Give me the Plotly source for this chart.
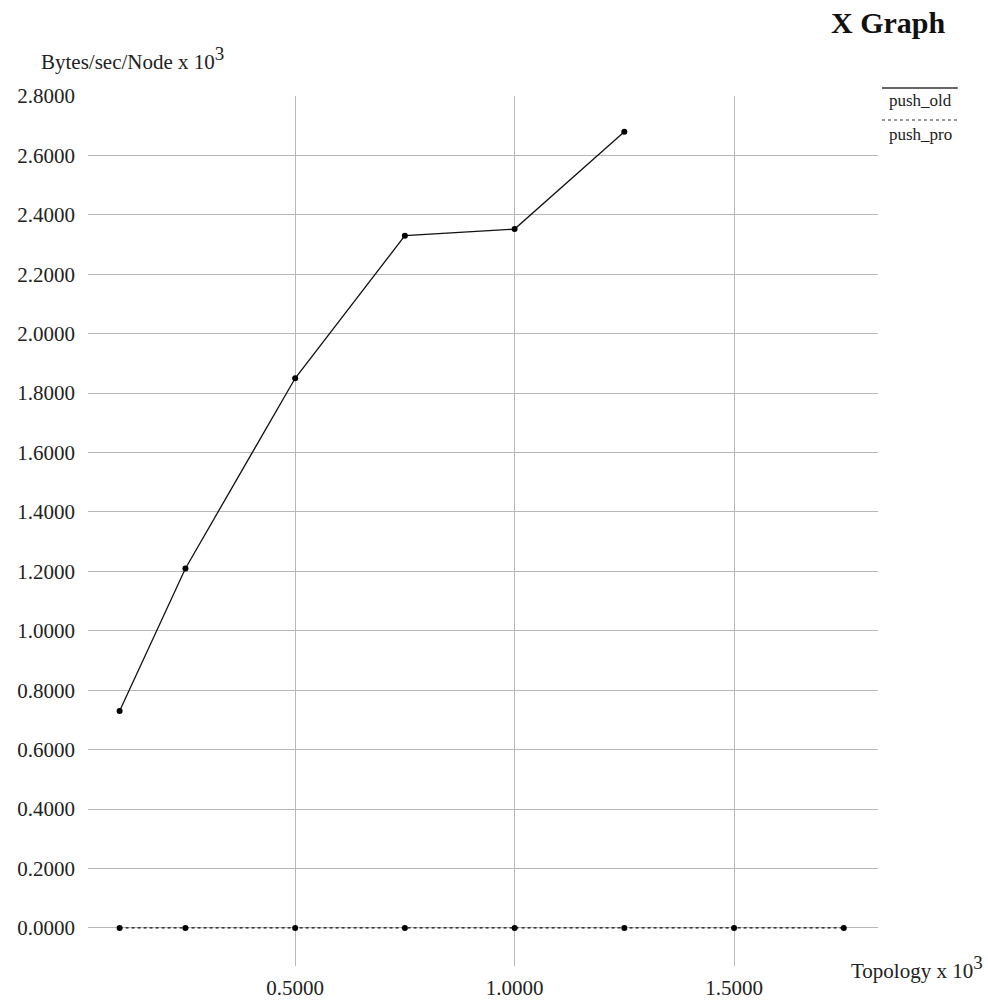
import plotly.graph_objects as go

topology = [0.1, 0.25, 0.5, 0.75, 1.0, 1.25, 1.5, 1.75]
push_old_x = [0.1, 0.25, 0.5, 0.75, 1.0, 1.25]
push_old_y = [0.73, 1.21, 1.85, 2.33, 2.352, 2.68]
push_pro_y = [0.0, 0.0, 0.0, 0.0, 0.0, 0.0, 0.0, 0.0]
y_ticks = [0.0, 0.2, 0.4, 0.6, 0.8, 1.0, 1.2, 1.4, 1.6, 1.8, 2.0, 2.2, 2.4, 2.6, 2.8]
x_ticks = [0.5, 1.0, 1.5]

FONT = "Liberation Serif, Times New Roman, serif"

fig = go.Figure()
fig.add_trace(go.Scatter(x=push_old_x, y=push_old_y, mode="lines+markers", name="push_old",
                         line=dict(color="#111", width=1.3), marker=dict(color="#000", size=6)))
fig.add_trace(go.Scatter(x=topology, y=push_pro_y, mode="lines+markers", name="push_pro",
                         line=dict(color="#111", width=1.3, dash="dot"), marker=dict(color="#000", size=6)))

fig.update_layout(
    width=988, height=1003,
    margin=dict(l=88, r=110, t=96, b=37),
    paper_bgcolor="white", plot_bgcolor="white",
    showlegend=False,
    font=dict(family=FONT, size=21, color="#222"),
    xaxis=dict(range=[0.028, 1.828], tickvals=x_ticks, tickformat=".4f", automargin=False,
               showgrid=True, gridcolor="#b8b8b8", gridwidth=1, zeroline=False,
               showline=False, ticks="", ticklabelstandoff=7, tickfont=dict(size=21, color="#222")),
    yaxis=dict(range=[-0.128, 2.8], tickvals=y_ticks, tickformat=".4f", automargin=False,
               showgrid=True, gridcolor="#b8b8b8", gridwidth=1, zeroline=False,
               showline=False, ticks="", ticklabelstandoff=12, tickfont=dict(size=21, color="#222")),
)

fig.add_annotation(text="<b>X Graph</b>", xref="paper", yref="paper", x=(888 - 88) / 790, y=1.0, yshift=74,
                   xanchor="center", yanchor="middle", showarrow=False,
                   font=dict(family=FONT, size=30, color="#111"))
fig.add_annotation(text="Bytes/sec/Node x 10<sup><span style='font-size:19px'>3</span></sup>",
                   xref="paper", yref="paper", x=-0.062, y=1.0,
                   yshift=38, xanchor="left", yanchor="middle", showarrow=False,
                   font=dict(family=FONT, size=21, color="#222"))
fig.add_annotation(text="Topology x 10<sup><span style='font-size:19px'>3</span></sup>",
                   xref="paper", yref="paper", x=1.1354, y=0.0,
                   yshift=-1, xanchor="right", yanchor="middle", showarrow=False,
                   font=dict(family=FONT, size=21, color="#222"))

# legend
fig.add_shape(type="line", xref="paper", yref="paper", x0=1.005, x1=1.101, y0=1.0092, y1=1.0092,
              line=dict(color="#333", width=1.3))
fig.add_annotation(text="push_old", xref="paper", yref="paper", x=1.0114, y=0.9943,
                   xanchor="left", yanchor="middle", showarrow=False,
                   font=dict(family=FONT, size=17, color="#222"))
fig.add_shape(type="line", xref="paper", yref="paper", x0=1.005, x1=1.101, y0=0.9724, y1=0.9724,
              line=dict(color="#333", width=1.1, dash="dot"))
fig.add_annotation(text="push_pro", xref="paper", yref="paper", x=1.0114, y=0.9563,
                   xanchor="left", yanchor="middle", showarrow=False,
                   font=dict(family=FONT, size=17, color="#222"))

fig.write_html("out.html", config={"displayModeBar": False},
               post_script="document.body.style.margin='0';")
